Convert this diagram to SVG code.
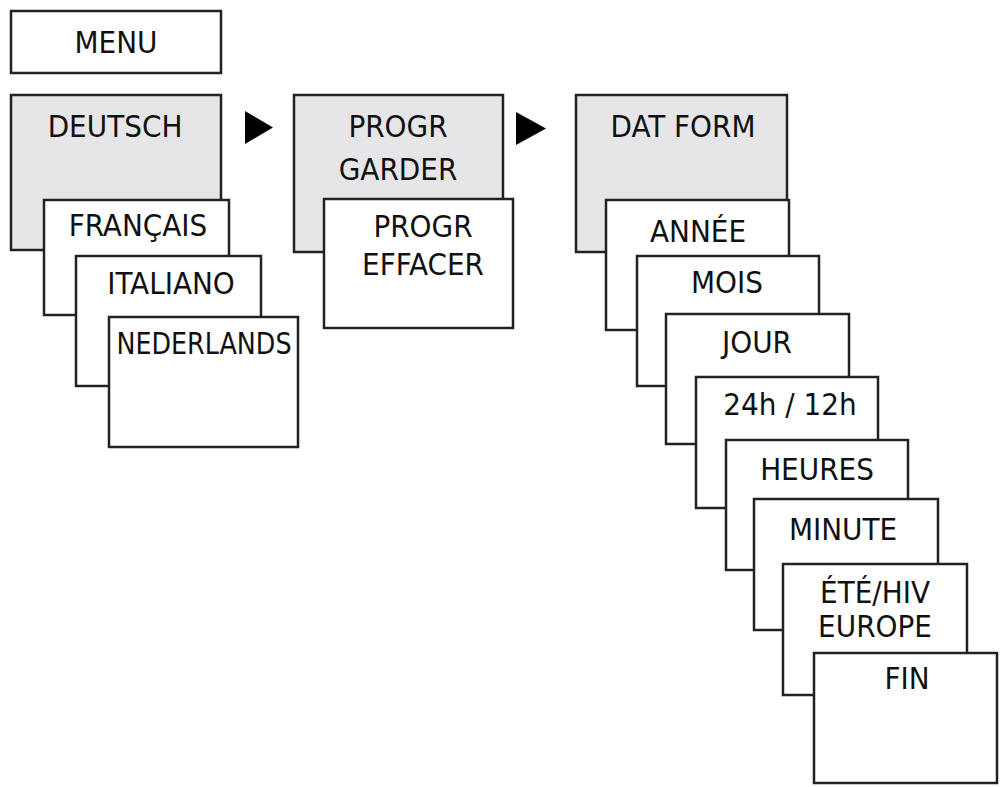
<svg xmlns="http://www.w3.org/2000/svg" width="1001" height="787" viewBox="0 0 1001 787">
<style>
.b{fill:#fff;stroke:#222;stroke-width:2.5}
.g{fill:#e6e6e8;stroke:#222;stroke-width:2.5}
text{font-family:"DejaVu Sans Condensed","DejaVu Sans",sans-serif;font-stretch:semi-condensed;font-size:31px;fill:#111;text-anchor:middle}
.a{fill:#000}
</style>
<rect width="1001" height="787" fill="#fff"/>
<g id="menu"><rect class="b" x="11" y="11" width="210" height="62"/><text x="116" y="53">MENU</text></g>
<g id="deutsch"><rect class="g" x="11" y="95" width="210" height="155"/><text x="115" y="137">DEUTSCH</text></g>
<g id="francais"><rect class="b" x="44" y="200" width="185" height="115"/><text x="138" y="236">FRANÇAIS</text></g>
<g id="italiano"><rect class="b" x="76" y="256" width="185" height="130"/><text x="171" y="294">ITALIANO</text></g>
<g id="nederlands"><rect class="b" x="109" y="317" width="189" height="130"/><text x="204" y="354" textLength="175" lengthAdjust="spacingAndGlyphs">NEDERLANDS</text></g>
<g id="progr-garder"><rect class="g" x="294" y="95" width="209" height="157"/><text x="398" y="137">PROGR</text><text x="398" y="180">GARDER</text></g>
<g id="progr-effacer"><rect class="b" x="324" y="199" width="189" height="129"/><text x="423" y="237">PROGR</text><text x="423" y="275">EFFACER</text></g>
<g id="dat-form"><rect class="g" x="576" y="95" width="211" height="157"/><text x="683" y="137">DAT FORM</text></g>
<g id="annee"><rect class="b" x="606" y="200" width="183" height="130"/><text x="698" y="242">ANNÉE</text></g>
<g id="mois"><rect class="b" x="637" y="256" width="182" height="130"/><text x="727" y="293">MOIS</text></g>
<g id="jour"><rect class="b" x="666" y="314" width="183" height="130"/><text x="757" y="353">JOUR</text></g>
<g id="h24"><rect class="b" x="696" y="377" width="182" height="131"/><text x="790" y="415">24h / 12h</text></g>
<g id="heures"><rect class="b" x="726" y="440" width="182" height="130"/><text x="817" y="480">HEURES</text></g>
<g id="minute"><rect class="b" x="754" y="499" width="184" height="131"/><text x="843" y="540">MINUTE</text></g>
<g id="ete-hiv"><rect class="b" x="783" y="564" width="184" height="131"/><text x="875" y="603">ÉTÉ/HIV</text><text x="875" y="637">EUROPE</text></g>
<g id="fin"><rect class="b" x="814" y="653" width="183" height="130"/><text x="907" y="689">FIN</text></g>
<g id="connectors">
<polygon class="a" points="245,111 273,127.5 245,144"/>
<polygon class="a" points="516,112 546,128.5 516,145"/>
</g>
</svg>
